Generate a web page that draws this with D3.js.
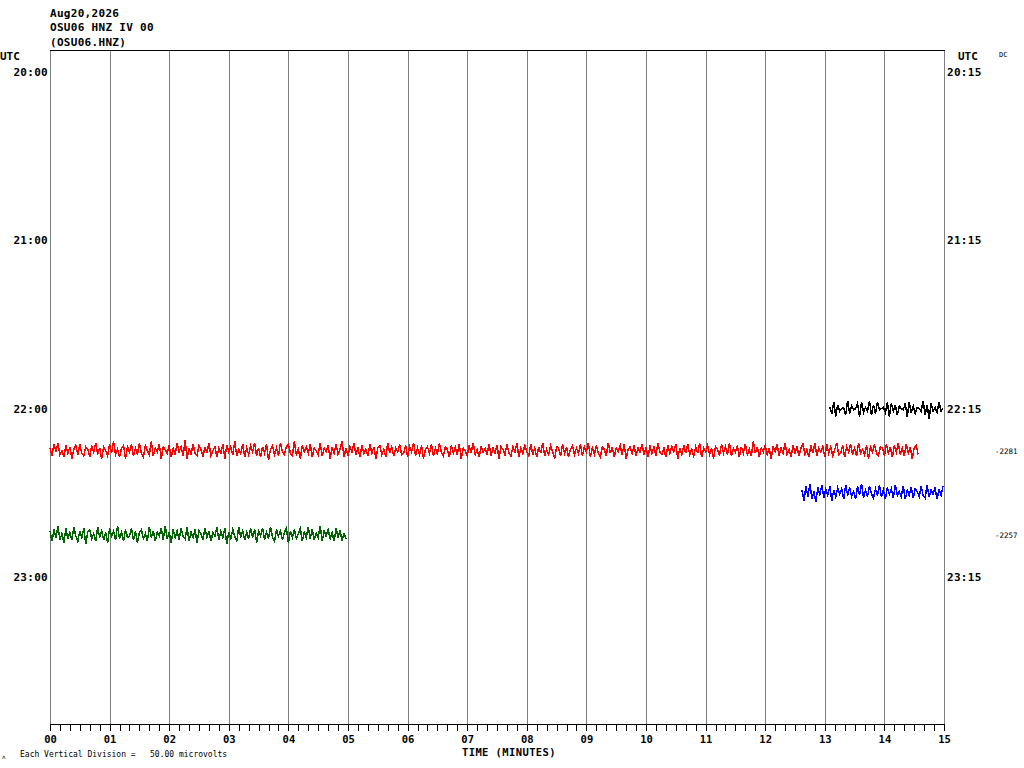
<!DOCTYPE html>
<html>
<head>
<meta charset="utf-8">
<script src="https://cdn.jsdelivr.net/npm/d3@7"></script>
<style>
  body { margin:0; background:#fff; }
  text { font-family:"DejaVu Sans Mono", "Liberation Mono", monospace; fill:#000; }
</style>
</head>
<body>
<script>
//Header lines
var headerLines = ["Aug20,2026", "OSU06 HNZ IV 00", "(OSU06.HNZ)"];

//Hour labels on both sides of the plot (rows are 15 minutes each)
var hourRows = [20, 21, 22, 23];
var leftHourLabels = ["20:00", "21:00", "22:00", "23:00"];
var rightHourLabels = ["20:15", "21:15", "22:15", "23:15"];

//Minute labels under the x axis
var minuteLabels = ["00","01","02","03","04","05","06","07","08","09","10","11","12","13","14","15"];

//Offset labels printed at the right of some rows
var offsetRows = [22.25, 22.75];
var offsetLabels = ["-2281", "-2257"];

//Each trace: row start (hour), first sample (seconds into row), one sample every 2 s (trace units)
var sampleSec = 2;
var traceRows = [22.0, 22.25, 22.5, 22.75];
var traceStartSec = [785, 0, 757, 0];

var blackVals = [1,-4,5,-6,3,-2,0,1,-5,6,-4,2,-1,0,4,-6,5,-3,1,-2,
  6,-5,3,-4,5,-1,0,1,-3,5,-6,4,-2,3,-5,2,0,-1,4,-6,
  5,-3,2,-4,1,0,-2,6,-5,3,-8,4,-2,1,-3,5,-2,0];

var redVals = [2,-4,5,-1,6,-3,0,-5,4,-2,3,-6,1,4,-3,5,-2,-4,3,1,
  -5,4,-1,6,-3,2,-6,3,0,-4,5,-2,7,-3,1,-5,2,4,-6,3,
  -1,5,-4,2,-3,6,-2,-5,4,0,-3,7,-4,2,-1,5,-6,3,1,-2,
  4,-5,2,-3,6,-1,3,-4,8,-6,2,-3,5,-2,-4,4,1,-5,3,-2,
  6,-4,0,3,-5,2,-2,5,-6,4,-1,3,-3,7,-4,1,-2,5,-5,2,
  -3,4,-1,6,-4,2,-5,3,-2,5,-7,1,4,-3,2,-4,6,-1,-3,3,
  5,-2,-4,7,-3,1,-6,4,-1,3,-2,5,-5,2,0,-3,6,-4,2,-1,
  4,-6,3,-2,5,-3,1,7,-5,2,-4,3,-1,6,-3,2,-5,4,-2,1,
  -4,5,-2,3,-6,2,4,-3,1,-5,6,-2,3,-4,2,-1,5,-3,-2,4,
  -5,3,-1,6,-4,2,-3,4,-6,1,3,-2,5,-4,2,-3,6,-1,-4,3,
  1,-5,4,-2,3,-3,5,-6,2,0,-4,4,-2,6,-3,1,-5,3,-1,2,
  -3,5,-4,2,-2,4,-6,3,1,-3,5,-2,-4,3,-1,6,-5,2,-2,4,
  -1,-4,5,-3,2,-5,3,-2,6,-4,1,-3,4,-1,-6,3,2,-4,5,-2,
  3,-5,1,4,-3,2,-2,5,-4,3,-1,6,-5,2,-3,4,-2,-5,3,1,
  -4,6,-2,3,-5,2,-1,4,-3,5,-6,1,3,-2,4,-4,2,-1,5,-3,
  2,-5,4,-2,3,-4,6,-1,-3,2,-5,4,-2,3,-1,5,-6,2,-3,4,
  -2,5,-3,1,-4,3,-2,6,-5,2,-1,4,-3,2,-6,3,1,-4,5,-2,
  3,-3,6,-4,2,-1,4,-5,3,-2,5,-3,1,-4,7,-2,3,-5,2,-1,
  4,-3,2,-6,3,-1,5,-4,2,-2,6,-3,1,-5,4,-2,3,-4,2,5,
  -3,1,-5,4,-2,6,-4,2,-1,3,-5,5,-2,3,-4,1,6,-3,-2,4,
  -5,3,-1,5,-3,2,-4,6,-2,1,-3,4,-6,3,-1,5,-2,-4,3,2,
  -4,5,-2,3,-5,4,-1,6,-3,2,-4,5,-2,3,-6,2,4,-3];

var blueVals = [2,-6,5,-3,7,-5,1,-7,4,-2,6,-4,3,-2,5,-6,2,-3,4,-1,
  3,-5,6,-2,4,-3,1,-5,5,-2,7,-4,2,-3,5,-1,-4,3,-2,6,
  -3,2,-5,4,-1,3,-4,6,-2,1,-3,5,-5,2,-2,4,-4,3,1,-3,
  5,-2,-4,6,-3,2,-1,4,-5,3,-2,5];

var greenVals = [3,-5,4,-2,7,-4,1,-6,5,-3,2,-4,6,-1,-5,3,-2,5,-7,2,
  4,-3,1,-5,6,-2,3,-4,2,-6,5,-1,3,-4,7,-3,2,-5,4,-2,
  -1,5,-4,3,-6,2,4,-3,1,-5,6,-2,3,-5,2,-1,5,-4,7,-3,
  2,-6,4,-2,3,-4,5,-1,-3,6,-5,2,-2,4,-6,3,1,-4,5,-2,
  3,-5,2,-1,6,-4,3,-2,5,-7,2,-3,4,-1,-5,6,-2,3,-4,2,
  -3,5,-2,4,-6,3,-1,5,-4,2,-3,6,-2,-5,4,-1,3,-4,2,5,
  -6,3,-2,4,-3,1,5,-5,2,-2,6,-3,4,-4,1,-2,7,-5,3,-1,
  4,-3,2,-5,5,-2,3,-4,1,-3];

var traceValues = [blackVals, redVals, blueVals, greenVals];
var traceColors = ["#000000", "#ff0000", "#0000ff", "#006400"];
var pxPerUnit = 1.3;

//Plot frame
var plotLeft = 50, plotRight = 944, plotTop = 50, plotBottom = 724;

var svg = d3.select("body").append("svg")
  .attr("width", 1024)
  .attr("height", 768);

var x = d3.scaleLinear().domain([0, 15]).range([plotLeft, plotRight]);
//time of day (hours) -> row centre
var y = d3.scaleLinear().domain([20, 24]).range([72, 72 + 4 * 168.3]);

//header text
svg.append("g").selectAll("text")
  .data(headerLines)
  .enter().append("text")
  .attr("x", 50)
  .attr("y", function(d, i){ return 17 + i * 14.3; })
  .attr("font-size", 11)
  .attr("font-weight", "bold")
  .attr("letter-spacing", 0.3)
  .text(function(d){ return d; });

//vertical minute lines
svg.append("g").selectAll("line")
  .data(d3.range(0, 16))
  .enter().append("line")
  .attr("x1", function(d){ return Math.round(x(d)) + 0.5; })
  .attr("x2", function(d){ return Math.round(x(d)) + 0.5; })
  .attr("y1", plotTop)
  .attr("y2", plotBottom)
  .attr("stroke", "#808080")
  .attr("stroke-width", 1)
  .attr("shape-rendering", "crispEdges");

//top border
svg.append("line")
  .attr("x1", plotLeft).attr("x2", plotRight + 1)
  .attr("y1", plotTop + 0.5).attr("y2", plotTop + 0.5)
  .attr("stroke", "#000")
  .attr("shape-rendering", "crispEdges");

//UTC labels
svg.append("text").attr("x", 0).attr("y", 60)
  .attr("font-size", 11).attr("font-weight", "bold").text("UTC");
svg.append("text").attr("x", 958).attr("y", 60)
  .attr("font-size", 11).attr("font-weight", "bold").text("UTC");
svg.append("text").attr("x", 999).attr("y", 57)
  .attr("font-size", 7).text("DC");

//hour labels
svg.append("g").selectAll("text")
  .data(hourRows)
  .enter().append("text")
  .attr("x", 48)
  .attr("y", function(d){ return y(d) + 4; })
  .attr("text-anchor", "end")
  .attr("font-size", 11)
  .attr("font-weight", "bold")
  .attr("letter-spacing", 0.3)
  .text(function(d, i){ return leftHourLabels[i]; });

svg.append("g").selectAll("text")
  .data(hourRows)
  .enter().append("text")
  .attr("x", 947)
  .attr("y", function(d){ return y(d) + 4; })
  .attr("font-size", 11)
  .attr("font-weight", "bold")
  .attr("letter-spacing", 0.3)
  .text(function(d, i){ return rightHourLabels[i]; });

//offset labels
svg.append("g").selectAll("text")
  .data(offsetRows)
  .enter().append("text")
  .attr("x", 995)
  .attr("y", function(d){ return y(d) + 3; })
  .attr("font-size", 7.5)
  .text(function(d, i){ return offsetLabels[i]; });

//traces
var line = d3.line()
  .x(function(d){ return x(d.t / 60); })
  .y(function(d){ return d.y; });

traceValues.forEach(function(vals, k){
  var pts = vals.map(function(v, i){
    return { t: traceStartSec[k] + i * sampleSec, y: y(traceRows[k]) - v * pxPerUnit };
  });
  svg.append("path")
    .attr("d", line(pts))
    .attr("fill", "none")
    .attr("stroke", traceColors[k])
    .attr("stroke-width", 1.5)
    .attr("shape-rendering", "crispEdges");
});

//bottom axis: ticks every 10 seconds
var minorAxis = d3.axisBottom(x)
  .tickValues(d3.range(0, 91).map(function(d){ return d / 6; }))
  .tickSize(7)
  .tickSizeOuter(0)
  .tickFormat("");

var gAxis = svg.append("g")
  .attr("transform", "translate(0," + plotBottom + ")")
  .call(minorAxis);
gAxis.selectAll("path, line").attr("stroke", "#000").attr("shape-rendering", "crispEdges");

var labelAxis = d3.axisBottom(x)
  .tickValues(d3.range(0, 16))
  .tickSize(0)
  .tickPadding(12)
  .tickFormat(function(d){ return minuteLabels[d]; });

var gLabels = svg.append("g")
  .attr("transform", "translate(0," + plotBottom + ")")
  .call(labelAxis);
gLabels.select(".domain").remove();
gLabels.selectAll("text")
  .attr("font-family", "DejaVu Sans Mono")
  .attr("font-size", 10.5)
  .attr("font-weight", "bold")
  .attr("fill", "#000");

svg.append("text")
  .attr("x", 509).attr("y", 756)
  .attr("text-anchor", "middle")
  .attr("font-size", 10.5)
  .attr("font-weight", "bold")
  .attr("letter-spacing", 0.4)
  .text("TIME (MINUTES)");

//scale note
svg.append("text").attr("x", 2).attr("y", 759)
  .attr("font-size", 6).text("ʌ");
svg.append("text")
  .attr("x", 20).attr("y", 757)
  .attr("font-size", 8)
  .style("white-space", "pre")
  .text("Each Vertical Division =   50.00 microvolts");
</script>
</body>
</html>
